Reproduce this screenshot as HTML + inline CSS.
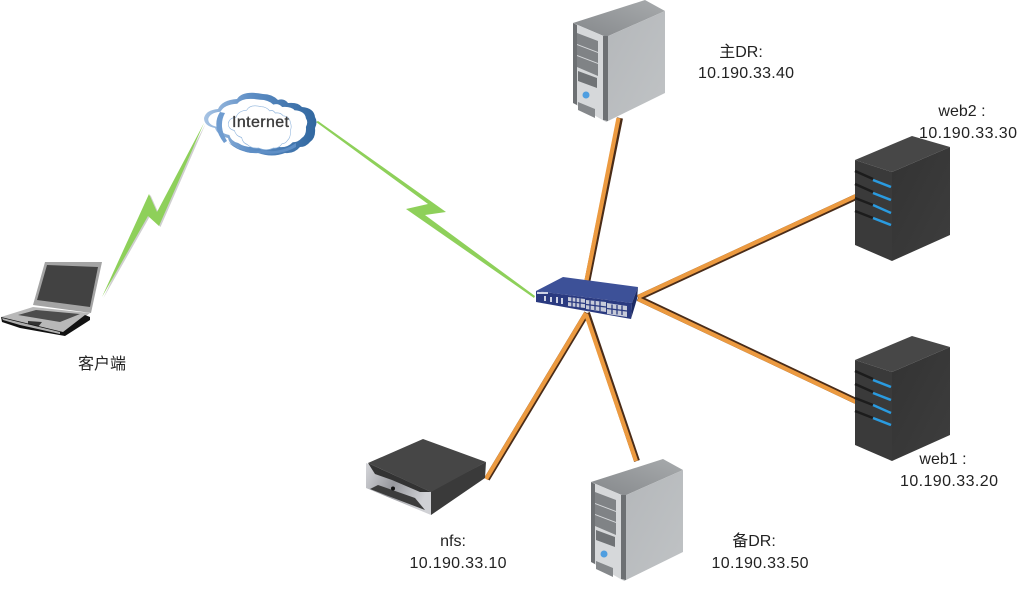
<!DOCTYPE html>
<html><head><meta charset="utf-8"><style>
html,body{margin:0;padding:0;background:#fff}
svg{display:block}
text{font-family:"Liberation Sans","Noto Sans CJK SC",sans-serif;fill:#222}
.t{font-size:16px}
</style></head><body>
<svg width="1035" height="592" viewBox="0 0 1035 592" xmlns="http://www.w3.org/2000/svg">
<defs>
<linearGradient id="side" x1="0" y1="0" x2="1" y2="1"><stop offset="0" stop-color="#b4b7ba"/><stop offset="1" stop-color="#c0c3c5"/></linearGradient>
<linearGradient id="top" x1="0" y1="1" x2="1" y2="0"><stop offset="0" stop-color="#85888b"/><stop offset="1" stop-color="#a8abad"/></linearGradient>
<linearGradient id="dk" x1="0" y1="0" x2="1" y2="1"><stop offset="0" stop-color="#333"/><stop offset="1" stop-color="#3d3d3d"/></linearGradient>
<linearGradient id="cl" x1="0" y1="0" x2="1" y2="0"><stop offset="0" stop-color="#a8c4e4"/><stop offset=".4" stop-color="#5f8fc6"/><stop offset="1" stop-color="#31679f"/></linearGradient>
<linearGradient id="nf" x1="0" y1="0" x2="1" y2="0.400"><stop offset="0" stop-color="#d5d6da"/><stop offset=".5" stop-color="#97989d"/><stop offset="1" stop-color="#d0d1d5"/></linearGradient>
<path id="cloud" d="M204,118 Q206,110 218,109 Q222,100 237,99 Q243,90 263,94 Q272,94 278,100 Q284,98 288,103 Q298,102 302,107 Q314,108 315,117 Q318,122 315,128 Q316,138 310,142 Q306,147 300,147 Q294,154 285,153 Q272,158 258,153 Q246,154 238,148 Q230,146 228,138 Q218,136 215,128 Q204,126 204,118 Z"/>

<g id="silver">
<polygon points="573,23 645,0 665,11 606,37" fill="url(#top)"/>
<polygon points="606,37 665,11 665,93 606,122" fill="url(#side)"/>
<polygon points="573,23 606,37 606,122 573,103" fill="#d6d8da"/>
<polygon points="573,23 577,25 577,105 573,103" fill="#6d7073"/>
<polygon points="603,36 608,36 608,121 603,120" fill="#6d7073"/>
<polygon points="577,33 598,41 598,52 577,44" fill="#808386"/>
<polygon points="577,45 598,53 598,63 577,55" fill="#808386"/>
<polygon points="577,56 598,64 598,76 577,67" fill="#808386"/>
<polygon points="578,71 597,78 597,88 578,81" fill="#707376"/>
<circle cx="586" cy="95" r="3.500" fill="#4f9ee0"/>
<polygon points="578,102 595,109 595,118 578,110" fill="#85888b"/>
</g>

<g id="dark">
<polygon points="855,160 912,136 950,147 892,172" fill="#474747"/>
<polygon points="892,172 950,147 950,235 892,261" fill="url(#dk)"/>
<polygon points="855,160 892,172 892,261 855,245" fill="#3a3a3a"/>
<g fill="none" stroke-width="2.500">
<path d="M855,171 L873,179" stroke="#1c1c1c"/><path d="M873,180 L891,187" stroke="#2a9be0"/>
<path d="M855,184 L873,192" stroke="#1c1c1c"/><path d="M873,193 L891,200" stroke="#2a9be0"/>
<path d="M855,198 L873,205" stroke="#1c1c1c"/><path d="M873,205 L891,213" stroke="#2a9be0"/>
<path d="M855,211 L873,218" stroke="#1c1c1c"/><path d="M873,218 L891,225" stroke="#2a9be0"/>
</g>
</g>
</defs>

<!-- cables -->
<g fill="none" stroke-linecap="butt">
<g stroke="#4a2c18" stroke-width="6">
<path d="M587,283 L620,118"/><path d="M638,298 L856,197"/><path d="M638,298 L856,401"/>
<path d="M587,313 L637,461"/><path d="M587,313 L487,479"/>
</g>
<g stroke="#ec9a40" stroke-width="4.200">
<path d="M586,283 L618.500,118"/><path d="M638,297 L856,196"/><path d="M638,299 L856,402"/>
<path d="M586,314 L636,461"/><path d="M586,313 L486,479"/>
</g>
</g>

<!-- lightning -->
<polygon points="102,297 149,194 157,212 204,123 159,226 148,216" fill="#cfcfcf" transform="translate(1.500,1)"/>
<polygon points="102,297 149,194 157,212 204,123 159,226 148,216" fill="#8ed05a"/>
<polygon points="316,122 318,121 446,212 425,215 535,296 534,298 406,209 428,204" fill="#8ed05a"/>

<!-- cloud -->
<g>
<use href="#cloud" fill="url(#cl)"/>
<use href="#cloud" fill="#fff" transform="translate(-2.500,0) translate(260,123) scale(.88,.8) translate(-260,-123)"/>
<path d="M220,112 Q211,126 224,143 L227,141 Q218,126 225,113 Z" fill="#6f9cd0"/>
<path d="M228,142 Q245,155 262,150 Q280,154 296,143 L296,147 Q280,156 260,153 Q240,154 228,142 Z" fill="#5f8fc6"/>
<use href="#cloud" fill="#fff" stroke="#8fb4dc" stroke-width="1" transform="translate(0,1) translate(259,126) scale(.56,.7) translate(-259,-123)"/>
<text x="260.500" y="127" text-anchor="middle" font-size="16" style="fill:#3c3c3c;stroke:#3c3c3c;stroke-width:.35" textLength="57">Internet</text>
</g>

<!-- laptop -->
<g>
<polygon points="45,262 102,262 91,313 33,305" fill="#a4a4a4"/>
<polygon points="47,265 98,267 90,307 37,300" fill="#424242"/>
<polygon points="1,317 33,307 90,313 63,333" fill="#b8b8b8"/>
<polygon points="18,315 36,310 80,314 60,322" fill="#4c4c4c"/>
<polygon points="28,321 42,322 38,327 28,325" fill="#333"/>
<polygon points="1,317 63,332 85,315 90,317 90,320 65,336 20,328 2,322" fill="#111"/>
<polygon points="2,318 60,332 60,334 20,325 3,320" fill="#b0b0b0"/>
</g>

<!-- switch -->
<g>
<polygon points="536,291 563,277 638,287 632,303" fill="#3d5198"/>
<polygon points="536,291 632,303 631,319 536,302" fill="#2a3a80"/>
<polygon points="632,303 638,287 637,299 631,319" fill="#1c2a63"/>
<g fill="#c6cad8">
<polygon points="568,297 585,299 585,308 568,306"/>
<polygon points="586,300 606,302 606,312 586,309"/>
<polygon points="607,303 627,306 627,317 607,314"/>
</g>
<g stroke="#2a3a80" stroke-width="1.300" fill="none">
<path d="M568,301.500 L585,303.500 M586,304.500 L606,307 M607,308.500 L627,311"/>
<path d="M572,297.500 V306.500 M576,298 V307 M580,298.500 V307.500 M590,300.500 V309.500 M595,301 V310 M600,301.500 V311 M612,304.500 V314 M617,305 V314.500 M622,305.500 V315"/>
</g>
<g fill="#cdd2e4"><rect x="537" y="292" width="11" height="2"/><rect x="544" y="296" width="2" height="5"/><rect x="550" y="297" width="2" height="5"/><rect x="556" y="297" width="2" height="6"/><rect x="561" y="298" width="2" height="6"/></g>
</g>

<!-- servers -->
<use href="#silver"/>
<use href="#silver" x="18" y="459"/>
<use href="#dark"/>
<use href="#dark" y="200"/>

<!-- nfs -->
<g>
<polygon points="366,463 431,491 431,515 366,488" fill="url(#nf)"/>
<polygon points="431,491 486,462 485,478 431,515" fill="#3a3a3a"/>
<polygon points="423,439 486,462 431,492 368,463" fill="#464646"/>
<polygon points="368,463 431,492 420,492 392,480 375,474" fill="#333"/>
<polygon points="370,489 378,485 415,498 425,510" fill="#3c3c3c"/>
<circle cx="393" cy="488.500" r="2" fill="#111"/>
</g>

<!-- labels -->
<text class="t" x="741" y="57" text-anchor="middle">主DR:</text>
<text class="t" x="746" y="78" text-anchor="middle" textLength="96">10.190.33.40</text>
<text class="t" x="962" y="116" text-anchor="middle">web2 :</text>
<text class="t" x="968" y="138" text-anchor="middle" textLength="98">10.190.33.30</text>
<text class="t" x="943" y="464" text-anchor="middle">web1 :</text>
<text class="t" x="949" y="486" text-anchor="middle" textLength="98">10.190.33.20</text>
<text class="t" x="754" y="546" text-anchor="middle">备DR:</text>
<text class="t" x="760" y="568" text-anchor="middle" textLength="97">10.190.33.50</text>
<text class="t" x="453" y="546" text-anchor="middle">nfs:</text>
<text class="t" x="458" y="568" text-anchor="middle" textLength="97">10.190.33.10</text>
<text x="102" y="369" text-anchor="middle" font-size="16">客户端</text>
</svg>
</body></html>
